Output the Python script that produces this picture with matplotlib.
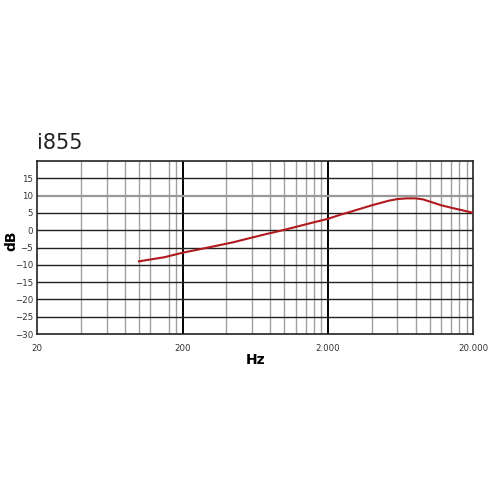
import numpy as np
import matplotlib
matplotlib.use("Agg")
import matplotlib.pyplot as plt

# frequency response
freq = [100, 150, 200, 300, 444, 577, 771, 1000, 1500, 2000, 2400, 3000,
        4000, 5200, 6000, 6900, 8000, 9000, 10500, 12000, 14400, 17000, 20000]
db = [-9.0, -7.8, -6.5, -5.0, -3.5, -2.3, -1.0, 0.1, 2.0, 3.3, 4.4, 5.6,
      7.2, 8.5, 9.0, 9.2, 9.2, 8.9, 8.0, 7.2, 6.4, 5.7, 5.0]

major_x = [20, 200, 2000, 20000]
major_x_labels = ["20", "200", "2.000", "20.000"]
minor_x = [40, 60, 80, 100, 120, 160, 180,
           400, 600, 800, 1000, 1200, 1400, 1600, 1800,
           4000, 6000, 8000, 10000, 12000, 14000, 16000, 18000]
y_ticks = [-30, -25, -20, -15, -10, -5, 0, 5, 10, 15]

fig = plt.figure(figsize=(4.96, 4.96), dpi=100)
axes = fig.add_axes([0.0752, 0.3266, 0.8794, 0.3488])
axes.set_xscale("log")
axes.set_xlim(20, 20000)
axes.set_ylim(-30, 20)

for f in minor_x:
    axes.axvline(f, color="#a0a0a0", lw=1.0, zorder=1)
for f in major_x[1:3]:
    axes.axvline(f, color="black", lw=1.4, zorder=2)
for y in y_ticks[1:]:
    if y == 10:
        axes.axhline(y, color="#999999", lw=1.6, zorder=2)
    else:
        axes.axhline(y, color="#222222", lw=1.0, zorder=2)

axes.plot(freq, db, color="#b0191e", lw=1.5, zorder=3)

axes.set_xticks(major_x)
axes.set_xticklabels(major_x_labels)
axes.minorticks_off()
axes.set_yticks(y_ticks)
axes.tick_params(length=0, labelsize=6.2, colors="#333333")
axes.tick_params(axis="x", pad=7)
axes.tick_params(axis="y", pad=3)
for s in axes.spines.values():
    s.set_color("#222222")
    s.set_linewidth(1.2)

axes.set_xlabel("Hz", fontsize=10, fontweight="bold", labelpad=0)
fig.text(11 / 496, 1 - 241 / 496, "dB", fontsize=10, fontweight="bold",
         rotation=90, ha="center", va="center")
fig.text(0.0752, 1 - 149 / 496, "i855", fontsize=15, color="#222222",
         ha="left", va="baseline")

fig.savefig("out.png", dpi=100, facecolor="white")
